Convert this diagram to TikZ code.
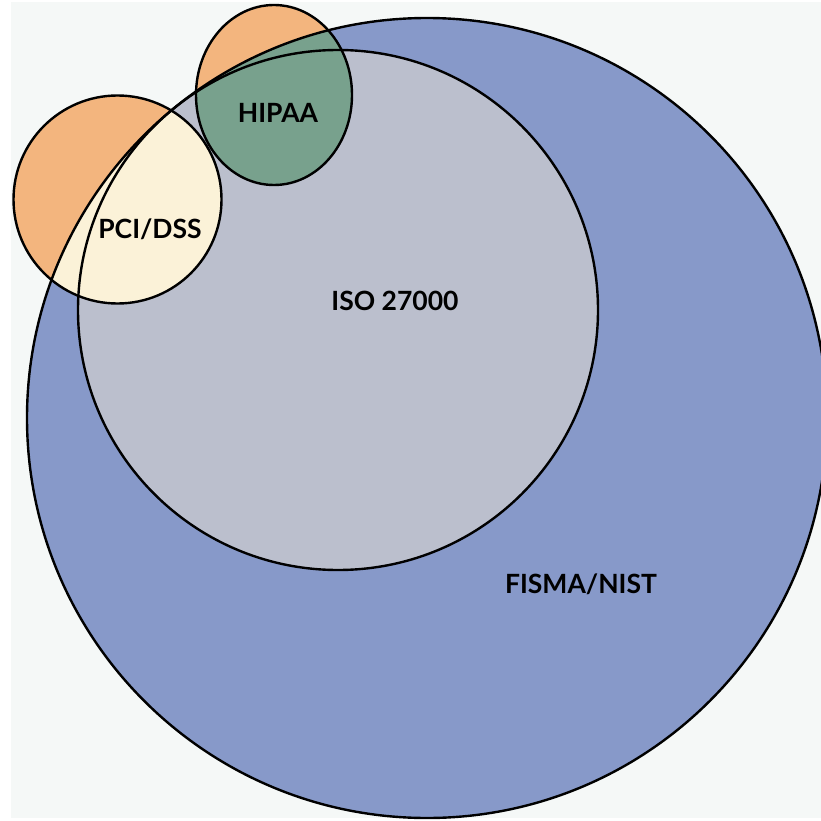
\documentclass[tikz,border=0pt]{standalone}
\usepackage{fontspec}
\setmainfont{Lato}
\definecolor{paper}{HTML}{F5F8F7}
\definecolor{fismablue}{HTML}{8799C9}
\definecolor{isogray}{HTML}{BBBFCD}
\definecolor{outsideorange}{HTML}{F3B57E}
\definecolor{hipaagreen}{HTML}{78A18D}
\definecolor{pciyellow}{HTML}{FBF2D8}
\begin{document}
\begin{tikzpicture}[x=1pt,y=-1pt,
  ring/.style={draw=black,line width=2.4pt},
  tag/.style={anchor=base,font=\fontsize{26.5}{30}\selectfont\bfseries}]
  \useasboundingbox (0,0) rectangle (821,821);
  \fill[white] (0,0) rectangle (821,821);
  \fill[paper] (11,2) rectangle (821,818);
  \coordinate (fisma) at (427,418);
  \coordinate (iso) at (338,310);
  \coordinate (pci) at (117.5,199.5);
  \coordinate (hipaa) at (274,95);
  \begin{scope}
    \clip (0,0) rectangle (821,821);
    % big sets
    \fill[fismablue] (fisma) circle (400);
    \fill[isogray] (iso) circle (260);
    % small sets, outside part first
    \fill[outsideorange] (pci) circle (104);
    \fill[outsideorange] (hipaa) ellipse (78 and 90);
    \begin{scope}
      \clip (fisma) circle (400);
      \fill[pciyellow] (pci) circle (104);
      \fill[hipaagreen] (hipaa) ellipse (78 and 90);
    \end{scope}
    % outlines
    \draw[ring] (fisma) circle (400);
    \draw[ring] (iso) circle (260);
    \draw[ring] (pci) circle (104);
    \draw[ring] (hipaa) ellipse (78 and 90);
  \end{scope}
  \node[tag] (hipaalabel) at (278,123) {HIPAA};
  \node[tag] (pcilabel) at (150,238) {PCI/DSS};
  \node[tag] (isolabel) at (395,310) {ISO 27000};
  \node[tag] (fismalabel) at (581,593) {FISMA/NIST};
\end{tikzpicture}
\end{document}
